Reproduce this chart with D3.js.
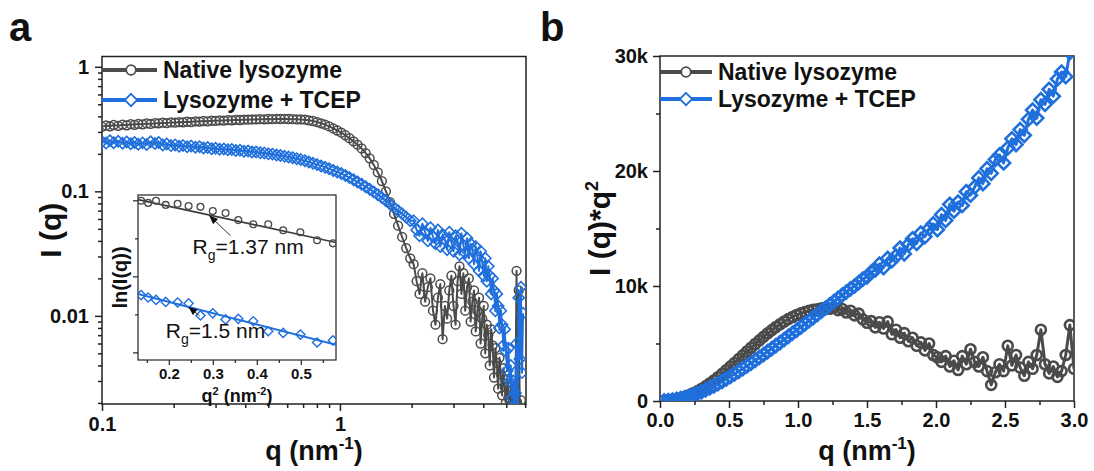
<!DOCTYPE html>
<html>
<head>
<meta charset="utf-8">
<script src="https://cdn.jsdelivr.net/npm/d3@7/dist/d3.min.js"></script>
<style>
  html, body { margin: 0; padding: 0; background: #fff; }
  svg text { font-family: "Liberation Sans", Arial, sans-serif; fill: #111; }
</style>
</head>
<body>
<svg id="fig" width="1094" height="471"></svg>
<script>
// figura saxs de lisozima: (a) I(q) en log-log con un inset de guinier,
// (b) grafico de kratky I(q)*q^2. los valores se leyeron a ojo de la imagen

// ---- panel a: q (nm^-1) e intensidad normalizada ----
var qA = [
  0.100, 0.104, 0.108, 0.112, 0.117, 0.122, 0.127, 0.132, 0.137, 0.142,
  0.148, 0.154, 0.160, 0.167, 0.173, 0.180, 0.187, 0.195, 0.203, 0.211,
  0.219, 0.228, 0.237, 0.247, 0.257, 0.267, 0.278, 0.289, 0.300, 0.312,
  0.325, 0.338, 0.351, 0.365, 0.380, 0.395, 0.411, 0.427, 0.444, 0.462,
  0.481, 0.500, 0.520, 0.541, 0.562, 0.585, 0.608, 0.633, 0.658, 0.684,
  0.712, 0.740, 0.770, 0.801, 0.833, 0.866, 0.901, 0.937, 0.974, 1.013,
  1.054, 1.096, 1.140, 1.185, 1.233, 1.282, 1.333, 1.387, 1.442, 1.500,
  1.560, 1.622, 1.687, 1.755, 1.825, 1.898, 1.974,
  2.04, 2.10, 2.16, 2.22, 2.28, 2.34, 2.40, 2.46, 2.52, 2.58,
  2.64, 2.70, 2.76, 2.82, 2.88, 2.94, 3.00, 3.06, 3.12, 3.18,
  3.24, 3.30, 3.36, 3.42, 3.48, 3.54, 3.60, 3.66, 3.72, 3.78,
  3.84, 3.90, 3.96, 4.02, 4.08, 4.14, 4.20, 4.26, 4.32, 4.38,
  4.44, 4.50, 4.56, 4.62, 4.68, 4.74, 4.80, 4.86, 4.92, 4.98,
  5.04, 5.10, 5.16, 5.22, 5.28, 5.34, 5.40, 5.46, 5.52, 5.58,
  5.64, 5.70, 5.76, 5.82, 5.88
];
var nativaA = [
  .330, .338, .333, .341, .336, .343, .339, .346, .342, .348,
  .345, .351, .348, .353, .351, .356, .353, .358, .356, .360,
  .358, .362, .360, .365, .363, .367, .365, .369, .368, .371,
  .370, .373, .372, .375, .374, .377, .376, .378, .378, .380,
  .379, .381, .380, .382, .381, .382, .381, .380, .379, .378,
  .376, .372, .367, .360, .352, .343, .332, .320, .308, .296,
  .282, .267, .252, .237, .221, .203, .184, .163, .142, .121,
  .100, .082, .066, .053, .043, .035, .029,
  .026, .019, .015, .022, .013, .017, .020, .011, .0085, .014,
  .018, .0065, .012, .0095, .016, .021, .012, .0085, .019, .025,
  .015, .022, .011, .017, .020, .0090, .013, .016, .0075, .011,
  .014, .0060, .0095, .012, .0050, .0085, .0070, .0040, .0078, .0058,
  .0032, .0055, .0042, .0026, .0046, .0034, .0023, .0038, .0027, .0020,
  .0031, .0022, .0019, .0027, .0018, .0022, .0017, .0020, .023, .0017,
  .016, .0016, .0021, .0016, .0016
];
var tcepA = [
  .250, .244, .255, .246, .252, .243, .249, .241, .247, .239,
  .245, .238, .250, .242, .247, .236, .240, .233, .236, .230,
  .233, .228, .231, .226, .228, .223, .225, .220, .222, .218,
  .219, .216, .217, .213, .214, .210, .211, .207, .207, .204,
  .203, .200, .199, .196, .194, .191, .189, .186, .183, .180,
  .176, .172, .168, .164, .160, .156, .152, .147, .143, .139,
  .134, .129, .124, .119, .114, .109, .104, .099, .094, .089,
  .084, .079, .074, .070, .066, .062, .058,
  .058, .049, .044, .055, .047, .040, .051, .043, .038, .049,
  .036, .045, .041, .034, .047, .039, .033, .044, .040, .031,
  .046, .037, .032, .042, .029, .038, .034, .026, .036, .030,
  .023, .033, .027, .021, .029, .019, .025, .021, .015, .020,
  .016, .011, .015, .012, .0080, .011, .0085, .0058, .0078, .0052,
  .0036, .0055, .0030, .0040, .0022, .0030, .0019, .0024, .0060, .0018,
  .014, .0045, .017, .0035, .0105
];
var dominioQA = [0.1, 6.05];
var dominioIA = [0.00196, 1.21];
var ticksQA = [0.1, 1];
var menoresQA = [0.2, 0.3, 0.4, 0.5, 0.6, 0.7, 0.8, 0.9, 2, 3, 4, 5, 6];
var ticksIA = [0.01, 0.1, 1];
var menoresIA = [0.002, 0.003, 0.004, 0.005, 0.006, 0.007, 0.008, 0.009,
  0.02, 0.03, 0.04, 0.05, 0.06, 0.07, 0.08, 0.09,
  0.2, 0.3, 0.4, 0.5, 0.6, 0.7, 0.8, 0.9];

// ---- inset guinier: q^2 contra ln(I) ----
var q2Inset = [0.137, 0.153, 0.171, 0.193, 0.220, 0.245, 0.272, 0.300,
  0.329, 0.358, 0.392, 0.426, 0.460, 0.499, 0.537, 0.573];
var lnNativa = [-1.003, -1.017, -1.003, -1.030, -1.023, -1.037, -1.043, -1.070,
  -1.083, -1.130, -1.157, -1.157, -1.197, -1.210, -1.263, -1.283];
var lnTcep = [-1.623, -1.639, -1.655, -1.668, -1.672, -1.677, -1.757, -1.743,
  -1.783, -1.779, -1.795, -1.861, -1.872, -1.883, -1.935, -1.921];
var ajusteNativa = [[0.13, -0.995], [0.58, -1.277]];
var ajusteTcep = [[0.13, -1.615], [0.58, -1.950]];
var dominioQ2 = [0.13, 0.58];
var dominioLn = [-2.05, -0.965];
var ticksQ2 = [0.2, 0.3, 0.4, 0.5];
var menoresQ2 = [0.15, 0.25, 0.35, 0.45, 0.55];
var ticksLn = [-2, -1.5, -1];
var menoresLn = [-1.75, -1.25];
// anotaciones: [q2, ln] de la punta de flecha, la cola y el texto
var flechaNativa = { punta: [0.293, -1.103], cola: [0.340, -1.232], texto: [0.254, -1.355], rg: "1.37" };
var flechaTcep = { punta: [0.246, -1.703], cola: [0.270, -1.760], texto: [0.193, -1.905], rg: "1.5" };

// ---- panel b: kratky, I(q)*q^2 en miles ----
var qB = [
  0.03, 0.06, 0.09, 0.12, 0.15, 0.18, 0.21, 0.24, 0.27, 0.30,
  0.33, 0.36, 0.39, 0.42, 0.45, 0.48, 0.51, 0.54, 0.57, 0.60,
  0.63, 0.66, 0.69, 0.72, 0.75, 0.78, 0.81, 0.84, 0.87, 0.90,
  0.93, 0.96, 0.99, 1.02, 1.05, 1.08, 1.11, 1.14, 1.17, 1.20,
  1.23, 1.26, 1.29, 1.32, 1.35, 1.38, 1.41, 1.44, 1.47, 1.50,
  1.53, 1.56, 1.59, 1.62, 1.65, 1.68, 1.71, 1.74, 1.77, 1.80,
  1.83, 1.86, 1.89, 1.92, 1.95, 1.98, 2.01, 2.04, 2.07, 2.10,
  2.13, 2.16, 2.19, 2.22, 2.25, 2.28, 2.31, 2.34, 2.37, 2.40,
  2.43, 2.46, 2.49, 2.52, 2.55, 2.58, 2.61, 2.64, 2.67, 2.70,
  2.73, 2.76, 2.79, 2.82, 2.85, 2.88, 2.91, 2.94, 2.97, 3.00
];
var nativaB = [
  0.02, 0.05, 0.10, 0.17, 0.26, 0.37, 0.50, 0.66, 0.84, 1.04,
  1.27, 1.52, 1.78, 2.06, 2.36, 2.67, 2.99, 3.31, 3.64, 3.97,
  4.30, 4.63, 4.95, 5.27, 5.58, 5.88, 6.16, 6.43, 6.68, 6.91,
  7.12, 7.31, 7.48, 7.62, 7.74, 7.84, 7.92, 7.97, 8.05, 8.10,
  8.02, 8.15, 7.90, 8.00, 7.70, 7.85, 7.45, 7.60, 7.10, 6.80,
  6.95, 6.40, 6.85, 6.30, 6.90, 5.80, 6.20, 5.50, 5.90, 5.20,
  5.50, 4.80, 5.10, 4.40, 5.00, 4.00, 3.80, 3.40, 3.90, 3.00,
  3.50, 2.70, 3.90, 3.20, 4.50, 3.40, 3.00, 3.80, 2.60, 1.40,
  2.50, 3.20, 2.60, 4.80, 3.10, 4.00, 2.90, 2.20, 3.40, 2.80,
  4.00, 6.20, 3.20, 2.40, 3.00, 2.10, 2.60, 4.00, 6.60, 2.80
];
var tcepB = [
  0.01, 0.04, 0.08, 0.14, 0.21, 0.30, 0.40, 0.52, 0.65, 0.80,
  0.96, 1.13, 1.31, 1.50, 1.70, 1.91, 2.13, 2.35, 2.58, 2.81,
  3.05, 3.29, 3.54, 3.79, 4.04, 4.30, 4.56, 4.82, 5.08, 5.35,
  5.62, 5.89, 6.16, 6.43, 6.70, 6.98, 7.25, 7.53, 7.81, 8.09,
  8.37, 8.65, 8.93, 9.20, 9.48, 9.75, 10.0, 10.3, 10.6, 10.8,
  11.2, 11.4, 11.9, 11.6, 12.4, 12.2, 12.6, 13.3, 12.8, 13.6,
  14.1, 13.7, 14.6, 14.3, 15.0, 15.4, 14.9, 16.2, 15.7, 17.1,
  16.5, 17.3, 17.0, 18.2, 17.9, 18.6, 19.4, 18.9, 20.2, 19.8,
  21.0, 21.4, 20.7, 22.0, 22.8, 22.3, 23.6, 23.1, 24.5, 25.3,
  24.6, 26.2, 25.8, 27.1, 26.5, 28.0, 28.6, 28.2, 30.3, 30.8
];
var dominioQB = [0, 3];
var dominioKB = [0, 30];
var ticksQB = [0, 0.5, 1, 1.5, 2, 2.5, 3];
var menoresQB = [0.25, 0.75, 1.25, 1.75, 2.25, 2.75];
var ticksKB = [0, 10, 20, 30];
var menoresKB = [5, 15, 25];

var series = ["Native lysozyme", "Lysozyme + TCEP"];

(function () {
  var svg = d3.select("#fig");
  var GRIS = "#4b4b4b";
  var AZUL = "#1f6fdc";
  var TINTA = "#222";
  var FUENTE = "'Liberation Sans', Arial, sans-serif";

  // cajas de cada grafico (en pixeles)
  var cajaA = { x0: 102, x1: 526, y0: 56.5, y1: 404 };
  var cajaB = { x0: 660, x1: 1074, y0: 56, y1: 401 };
  var cajaI = { x0: 138, x1: 336, y0: 195, y1: 360 };

  var xA = d3.scaleLog().domain(dominioQA).range([cajaA.x0, cajaA.x1]);
  var yA = d3.scaleLog().domain(dominioIA).range([cajaA.y1, cajaA.y0]);
  var xI = d3.scaleLinear().domain(dominioQ2).range([cajaI.x0, cajaI.x1]);
  var yI = d3.scaleLinear().domain(dominioLn).range([cajaI.y1, cajaI.y0]);
  var xB = d3.scaleLinear().domain(dominioQB).range([cajaB.x0, cajaB.x1]);
  var yB = d3.scaleLinear().domain(dominioKB).range([cajaB.y1, cajaB.y0]);

  var defs = svg.append("defs");
  function recorte(id, c) {
    defs.append("clipPath").attr("id", id).append("rect")
      .attr("x", c.x0).attr("y", c.y0)
      .attr("width", c.x1 - c.x0).attr("height", c.y1 - c.y0);
  }
  recorte("clipA", cajaA);
  recorte("clipB", cajaB);
  recorte("clipI", cajaI);

  defs.append("marker").attr("id", "punta")
    .attr("viewBox", "0 0 10 10").attr("refX", 9).attr("refY", 5)
    .attr("markerWidth", 9).attr("markerHeight", 9)
    .attr("markerUnits", "userSpaceOnUse").attr("orient", "auto")
    .append("path").attr("d", "M0,1 L10,5 L0,9 Z").attr("fill", "#111");

  function marcador(sel, tipo, r, color, ancho, relleno) {
    if (tipo === "circulo") {
      sel.append("circle").attr("r", r);
    } else {
      sel.append("path").attr("d", "M0," + (-r) + "L" + r + ",0L0," + r + "L" + (-r) + ",0Z");
    }
    sel.selectAll("circle,path")
      .attr("fill", relleno || "none")
      .attr("stroke", color)
      .attr("stroke-width", ancho);
  }

  function serie(g, xs, ys, ex, ey, op) {
    var datos = xs.map(function (x, i) { return { x: x, y: ys[i] }; });
    if (op.linea) {
      g.append("path").datum(datos)
        .attr("fill", "none").attr("stroke", op.color)
        .attr("stroke-width", op.linea).attr("stroke-linejoin", "round")
        .attr("d", d3.line().x(function (d) { return ex(d.x); }).y(function (d) { return ey(d.y); }));
    }
    g.append("g").selectAll("g")
      .data(datos)
      .enter().append("g")
      .attr("transform", function (d) { return "translate(" + ex(d.x) + "," + ey(d.y) + ")"; })
      .each(function () { marcador(d3.select(this), op.tipo, op.r, op.color, op.ancho); });
  }

  // ejes con ticks mayores, menores y marco completo
  function ejes(c, ex, ey, op) {
    var g = svg.append("g");
    g.append("g").attr("transform", "translate(0," + c.y1 + ")")
      .call(d3.axisBottom(ex).tickValues(op.tx).tickFormat(op.fx)
        .tickSize(op.largo).tickPadding(op.pad).tickSizeOuter(0));
    g.append("g").attr("transform", "translate(0," + c.y1 + ")")
      .call(d3.axisBottom(ex).tickValues(op.mx).tickFormat("").tickSize(op.corto).tickSizeOuter(0));
    g.append("g").attr("transform", "translate(" + c.x0 + ",0)")
      .call(d3.axisLeft(ey).tickValues(op.ty).tickFormat(op.fy)
        .tickSize(op.largo).tickPadding(op.pad).tickSizeOuter(0));
    g.append("g").attr("transform", "translate(" + c.x0 + ",0)")
      .call(d3.axisLeft(ey).tickValues(op.my).tickFormat("").tickSize(op.corto).tickSizeOuter(0));
    g.selectAll(".domain").remove();
    g.selectAll(".tick line").attr("stroke", TINTA).attr("stroke-width", op.grosor);
    g.selectAll("text")
      .attr("font-family", FUENTE).attr("font-weight", "bold")
      .attr("font-size", op.letra).attr("fill", "#111");
    g.append("rect")
      .attr("x", c.x0).attr("y", c.y0)
      .attr("width", c.x1 - c.x0).attr("height", c.y1 - c.y0)
      .attr("fill", "none").attr("stroke", TINTA).attr("stroke-width", op.grosor);
    return g;
  }

  function texto(x, y, partes, op) {
    var t = svg.append("text")
      .attr("x", x).attr("y", y)
      .attr("font-family", op.familia || FUENTE)
      .attr("font-weight", op.peso || "bold")
      .attr("font-size", op.letra)
      .attr("text-anchor", op.ancla || "start");
    if (op.rotar) t.attr("transform", "rotate(-90," + x + "," + y + ")");
    partes.forEach(function (p) {
      var s = t.append("tspan").text(p.t).attr("font-size", p.f || op.letra);
      if (p.dy) s.attr("dy", p.dy);
    });
    return t;
  }

  function leyenda(x0, x1, xm, y, tipo, color, nombre, op) {
    svg.append("line")
      .attr("x1", x0).attr("x2", x1).attr("y1", y).attr("y2", y)
      .attr("stroke", color).attr("stroke-width", op.linea);
    var m = svg.append("g").attr("transform", "translate(" + xm + "," + y + ")");
    marcador(m, tipo, tipo === "circulo" ? op.rc : op.rd, color, op.ancho, "#fff");
    texto(x1 + 6, y + 8, [{ t: nombre }], { letra: 23 });
  }

  var fmtQA = function (d) { return String(d); };
  var estiloLey = { linea: 4, rc: 4.8, rd: 6.2, ancho: 1.8 };

  // ---------------- panel a ----------------
  ejes(cajaA, xA, yA, {
    tx: ticksQA, mx: menoresQA, ty: ticksIA, my: menoresIA,
    fx: fmtQA, fy: fmtQA, largo: 7, corto: 4, pad: 6, grosor: 1.5, letra: 20
  });
  var datosA = svg.append("g").attr("clip-path", "url(#clipA)");
  serie(datosA, qA, nativaA, xA, yA, { tipo: "circulo", r: 4.4, color: GRIS, ancho: 1.5, linea: 2 });
  serie(datosA, qA, tcepA, xA, yA, { tipo: "diamante", r: 5.6, color: AZUL, ancho: 1.6, linea: 2 });

  leyenda(cajaA.x0, 157, 131, 70, "circulo", GRIS, series[0], estiloLey);
  leyenda(cajaA.x0, 157, 131, 100, "diamante", AZUL, series[1], estiloLey);

  texto((cajaA.x0 + cajaA.x1) / 2, 460,
    [{ t: "q (nm" }, { t: "-1", f: 17, dy: -11 }, { t: ")", dy: 11 }],
    { letra: 27, ancla: "middle" });
  texto(61, (cajaA.y0 + cajaA.y1) / 2, [{ t: "I (q)" }], { letra: 30, ancla: "middle", rotar: true });

  // ---------------- inset ----------------
  svg.append("rect")
    .attr("x", cajaI.x0).attr("y", cajaI.y0)
    .attr("width", cajaI.x1 - cajaI.x0).attr("height", cajaI.y1 - cajaI.y0)
    .attr("fill", "#fff");
  ejes(cajaI, xI, yI, {
    tx: ticksQ2, mx: menoresQ2, ty: ticksLn, my: menoresLn,
    fx: d3.format(".1f"), fy: function () { return ""; },
    largo: 5, corto: 3, pad: 3, grosor: 1.2, letra: 15
  });
  var datosI = svg.append("g").attr("clip-path", "url(#clipI)");
  var linea = d3.line().x(function (d) { return xI(d[0]); }).y(function (d) { return yI(d[1]); });
  datosI.append("path").attr("d", linea(ajusteNativa))
    .attr("stroke", "#3a3a3a").attr("stroke-width", 1.6).attr("fill", "none");
  datosI.append("path").attr("d", linea(ajusteTcep))
    .attr("stroke", AZUL).attr("stroke-width", 2).attr("fill", "none");
  serie(datosI, q2Inset, lnNativa, xI, yI, { tipo: "circulo", r: 3.4, color: GRIS, ancho: 1.3 });
  serie(datosI, q2Inset, lnTcep, xI, yI, { tipo: "diamante", r: 4.6, color: AZUL, ancho: 1.4 });

  [flechaNativa, flechaTcep].forEach(function (a) {
    svg.append("line")
      .attr("x1", xI(a.cola[0])).attr("y1", yI(a.cola[1]))
      .attr("x2", xI(a.punta[0])).attr("y2", yI(a.punta[1]))
      .attr("stroke", "#333").attr("stroke-width", 1)
      .attr("marker-end", "url(#punta)");
    texto(xI(a.texto[0]), yI(a.texto[1]),
      [{ t: "R" }, { t: "g", f: 14, dy: 6 }, { t: "=" + a.rg + " nm", dy: -6 }],
      { letra: 21, peso: "normal", familia: "Lato, 'Open Sans', sans-serif" });
  });

  texto((cajaI.x0 + cajaI.x1) / 2, 402,
    [{ t: "q" }, { t: "2", f: 11, dy: -7 }, { t: " (nm", dy: 7 }, { t: "-2", f: 11, dy: -7 }, { t: ")", dy: 7 }],
    { letra: 18, ancla: "middle" });
  texto(cajaI.x0 - 11, (cajaI.y0 + cajaI.y1) / 2, [{ t: "ln(I(q))" }], { letra: 20, ancla: "middle", rotar: true });

  // ---------------- panel b ----------------
  ejes(cajaB, xB, yB, {
    tx: ticksQB, mx: menoresQB, ty: ticksKB, my: menoresKB,
    fx: d3.format(".1f"), fy: function (d) { return d === 0 ? "0" : d + "k"; },
    largo: 7, corto: 4, pad: 5, grosor: 1.5, letra: 20
  });
  var datosB = svg.append("g").attr("clip-path", "url(#clipB)");
  serie(datosB, qB, nativaB, xB, yB, { tipo: "circulo", r: 5, color: GRIS, ancho: 2.6, linea: 3 });
  serie(datosB, qB, tcepB, xB, yB, { tipo: "diamante", r: 6.5, color: AZUL, ancho: 2.6, linea: 3 });

  leyenda(cajaB.x0, 712, 686, 72, "circulo", GRIS, series[0], estiloLey);
  leyenda(cajaB.x0, 712, 686, 99, "diamante", AZUL, series[1], estiloLey);

  texto((cajaB.x0 + cajaB.x1) / 2, 460,
    [{ t: "q (nm" }, { t: "-1", f: 17, dy: -11 }, { t: ")", dy: 11 }],
    { letra: 27, ancla: "middle" });
  texto(610, (cajaB.y0 + cajaB.y1) / 2,
    [{ t: "I (q)*q" }, { t: "2", f: 18, dy: -12 }],
    { letra: 30, ancla: "middle", rotar: true });

  // letras de panel
  texto(9, 41, [{ t: "a" }], { letra: 40 });
  texto(540, 41, [{ t: "b" }], { letra: 40 });
})();
</script>
</body>
</html>
